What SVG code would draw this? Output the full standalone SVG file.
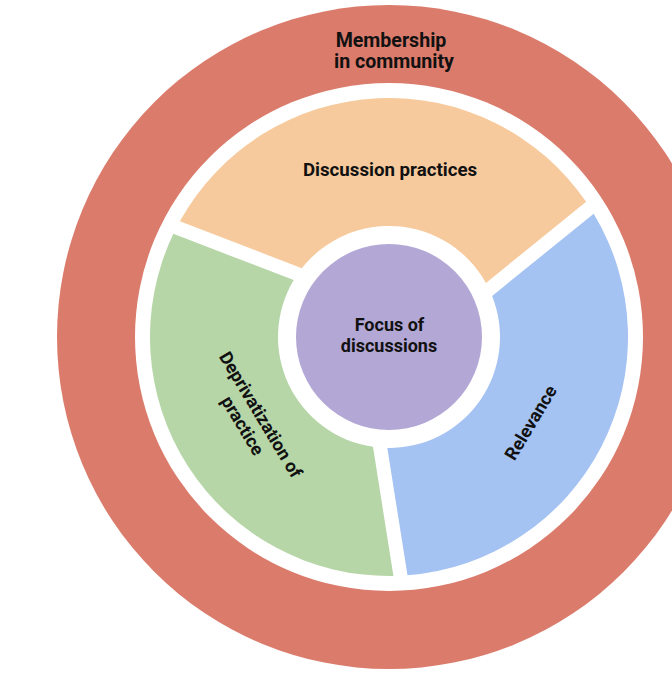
<svg xmlns="http://www.w3.org/2000/svg" width="672" height="700" viewBox="0 0 672 700">
  <style>
    .lbl { font-family: Roboto, "Liberation Sans", Arial, sans-serif; font-weight: bold; font-size: 18px; fill: #111111; text-anchor: middle; }
    .big { font-size: 19.6px; }
    .mid { font-size: 18.7px; }
  </style>
  <rect x="0" y="0" width="672" height="700" fill="#ffffff"/>
  <g id="membership">
    <circle cx="389" cy="337" r="332" fill="#DB7B6B"/>
    <circle cx="389" cy="337" r="254" fill="#ffffff"/>
    <text class="lbl big" x="391" y="47">Membership</text>
    <text class="lbl big" x="394" y="68">in community</text>
  </g>
  <g id="discussion-practices">
    <path d="M179.84,221.35 A239,239 0 0 1 586.10,201.84 L485.94,282.94 A111,111 0 0 0 301.89,268.21 Z" fill="#F7CA9D"/>
    <text class="lbl mid" x="390" y="176">Discussion practices</text>
  </g>
  <g id="relevance">
    <path d="M593.72,213.68 A239,239 0 0 1 407.49,575.28 L387.33,447.98 A111,111 0 0 0 492.13,295.95 Z" fill="#A4C2F2"/>
    <text class="lbl" transform="translate(530.5,422.5) rotate(-59)" x="0" y="6.5">Relevance</text>
  </g>
  <g id="deprivatization">
    <path d="M393.43,575.96 A239,239 0 0 1 173.39,233.87 L293.71,280.07 A111,111 0 0 0 372.99,446.84 Z" fill="#B6D6A8"/>
    <g transform="translate(252,420) rotate(59)">
      <text class="lbl" x="0" y="-4">Deprivatization of</text>
      <text class="lbl" x="0" y="17">practice</text>
    </g>
  </g>
  <g id="focus">
    <circle cx="389" cy="337" r="93" fill="#B3A7D5"/>
    <text class="lbl" x="389.5" y="331">Focus of</text>
    <text class="lbl" x="389" y="352">discussions</text>
  </g>
  <g id="connectors"/>
</svg>
